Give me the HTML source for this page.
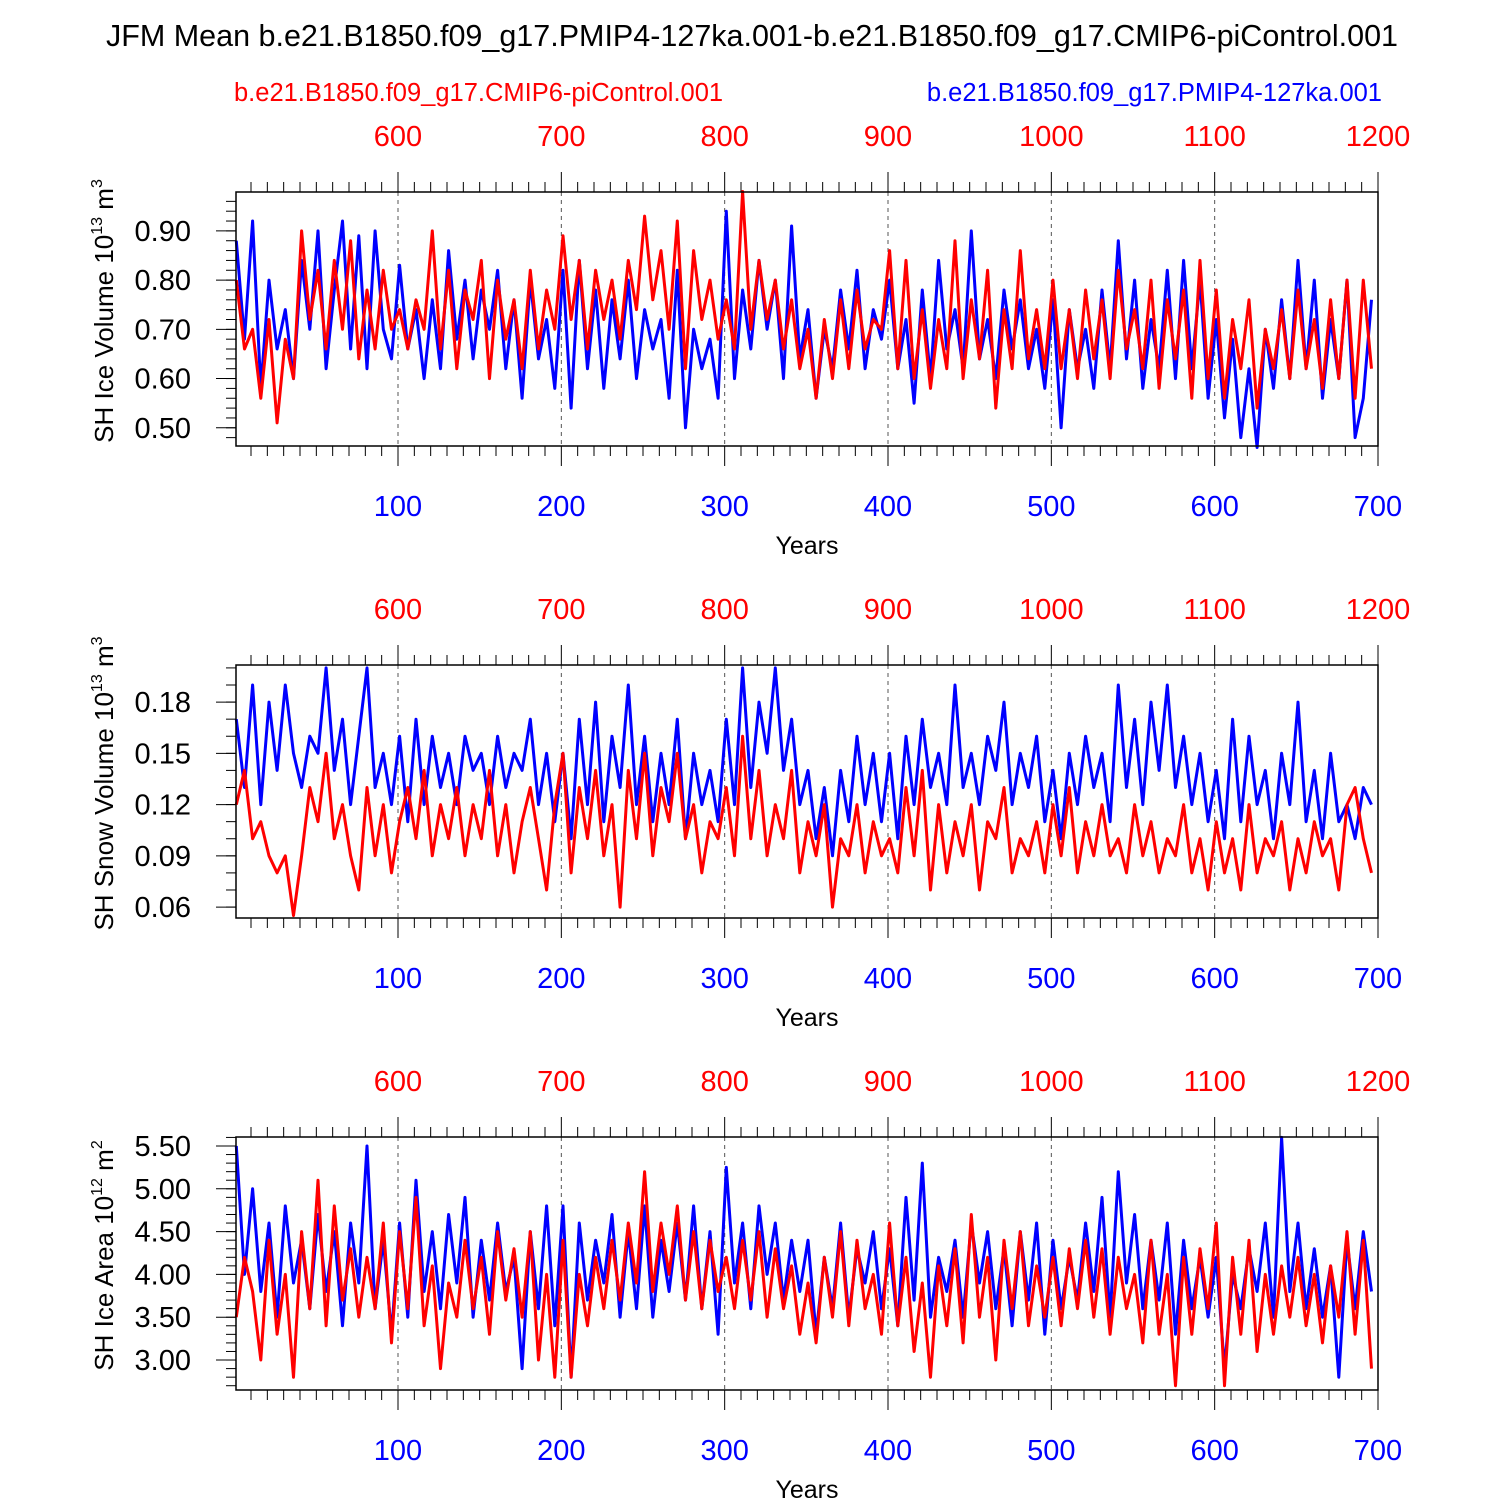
<!DOCTYPE html>
<html><head><meta charset="utf-8"><style>
html,body{margin:0;padding:0;background:#fff;}
svg{display:block;font-family:"Liberation Sans",Arial,sans-serif;}
</style></head><body>
<svg id="chart" width="1500" height="1500" viewBox="0 0 1500 1500">
<text x="752" y="46" font-size="30.5" text-anchor="middle">JFM Mean b.e21.B1850.f09_g17.PMIP4-127ka.001-b.e21.B1850.f09_g17.CMIP6-piControl.001</text>
<text x="234" y="101" font-size="25.5" fill="#f00">b.e21.B1850.f09_g17.CMIP6-piControl.001</text>
<text x="1382" y="101" font-size="25.5" fill="#00f" text-anchor="end">b.e21.B1850.f09_g17.PMIP4-127ka.001</text>
</svg>
<script>
const blueVol=[0.88,0.68,0.92,0.58,0.80,0.66,0.74,0.60,0.84,0.70,0.90,0.62,0.78,0.92,0.66,0.89,0.62,0.90,0.70,0.64,
0.83,0.66,0.74,0.60,0.76,0.62,0.86,0.68,0.80,0.64,0.78,0.70,0.82,0.62,0.76,0.56,0.80,0.64,0.72,0.58,
0.82,0.54,0.84,0.62,0.78,0.58,0.76,0.64,0.80,0.60,0.74,0.66,0.72,0.56,0.82,0.50,0.70,0.62,0.68,0.56,
0.94,0.60,0.78,0.66,0.84,0.70,0.80,0.60,0.91,0.64,0.74,0.56,0.70,0.62,0.78,0.66,0.82,0.62,0.74,0.68,
0.80,0.62,0.72,0.55,0.78,0.60,0.84,0.66,0.74,0.62,0.90,0.64,0.72,0.60,0.78,0.66,0.76,0.62,0.70,0.58,
0.76,0.50,0.74,0.62,0.70,0.58,0.78,0.62,0.88,0.64,0.80,0.58,0.72,0.62,0.82,0.60,0.84,0.62,0.80,0.56,
0.72,0.52,0.68,0.48,0.62,0.46,0.70,0.58,0.76,0.60,0.84,0.62,0.80,0.56,0.72,0.60,0.80,0.48,0.56,0.76];
const redVol=[0.80,0.66,0.70,0.56,0.72,0.51,0.68,0.60,0.90,0.72,0.82,0.66,0.84,0.70,0.88,0.64,0.78,0.66,0.82,0.70,
0.74,0.66,0.76,0.70,0.90,0.66,0.82,0.62,0.78,0.72,0.84,0.60,0.80,0.68,0.76,0.62,0.82,0.66,0.78,0.70,
0.89,0.72,0.84,0.66,0.82,0.72,0.80,0.68,0.84,0.74,0.93,0.76,0.86,0.70,0.92,0.62,0.86,0.72,0.80,0.68,
0.76,0.66,0.98,0.70,0.84,0.72,0.80,0.66,0.76,0.62,0.70,0.56,0.72,0.60,0.76,0.62,0.78,0.66,0.72,0.70,
0.86,0.62,0.84,0.60,0.74,0.58,0.72,0.62,0.88,0.60,0.76,0.64,0.82,0.54,0.74,0.62,0.86,0.64,0.74,0.62,
0.80,0.62,0.74,0.60,0.78,0.64,0.76,0.60,0.82,0.66,0.74,0.62,0.80,0.58,0.76,0.64,0.78,0.56,0.84,0.60,
0.78,0.56,0.72,0.62,0.76,0.54,0.70,0.62,0.74,0.60,0.78,0.62,0.72,0.58,0.76,0.60,0.80,0.56,0.80,0.62];
const blueSnow=[0.17,0.13,0.19,0.12,0.18,0.14,0.19,0.15,0.13,0.16,0.15,0.20,0.14,0.17,0.12,0.16,0.20,0.13,0.15,0.12,
0.16,0.11,0.17,0.12,0.16,0.13,0.15,0.12,0.16,0.14,0.15,0.12,0.16,0.13,0.15,0.14,0.17,0.12,0.15,0.11,
0.15,0.10,0.17,0.12,0.18,0.11,0.16,0.13,0.19,0.12,0.16,0.11,0.15,0.12,0.17,0.10,0.15,0.12,0.14,0.11,
0.17,0.12,0.20,0.13,0.18,0.15,0.20,0.14,0.17,0.12,0.14,0.10,0.13,0.09,0.14,0.11,0.16,0.12,0.15,0.11,
0.15,0.10,0.16,0.12,0.17,0.13,0.15,0.12,0.19,0.13,0.15,0.12,0.16,0.14,0.18,0.12,0.15,0.13,0.16,0.11,
0.14,0.10,0.15,0.12,0.16,0.13,0.15,0.11,0.19,0.13,0.17,0.12,0.18,0.14,0.19,0.13,0.16,0.12,0.15,0.11,
0.14,0.10,0.17,0.11,0.16,0.12,0.14,0.10,0.15,0.12,0.18,0.11,0.14,0.10,0.15,0.11,0.12,0.10,0.13,0.12];
const redSnow=[0.12,0.14,0.10,0.11,0.09,0.08,0.09,0.055,0.09,0.13,0.11,0.15,0.10,0.12,0.09,0.07,0.13,0.09,0.12,0.08,
0.11,0.13,0.10,0.14,0.09,0.12,0.10,0.13,0.09,0.12,0.10,0.14,0.09,0.12,0.08,0.11,0.13,0.10,0.07,0.12,
0.15,0.08,0.13,0.10,0.14,0.09,0.12,0.06,0.14,0.10,0.15,0.09,0.13,0.11,0.15,0.10,0.12,0.08,0.11,0.10,
0.13,0.09,0.16,0.10,0.14,0.09,0.12,0.10,0.14,0.08,0.11,0.09,0.12,0.06,0.10,0.09,0.12,0.08,0.11,0.09,
0.10,0.08,0.13,0.09,0.14,0.07,0.12,0.08,0.11,0.09,0.12,0.07,0.11,0.10,0.13,0.08,0.10,0.09,0.11,0.08,
0.12,0.09,0.13,0.08,0.11,0.09,0.12,0.09,0.10,0.08,0.12,0.09,0.11,0.08,0.10,0.09,0.12,0.08,0.10,0.07,
0.11,0.08,0.10,0.07,0.12,0.08,0.10,0.09,0.11,0.07,0.10,0.08,0.11,0.09,0.10,0.07,0.12,0.13,0.10,0.08];
const blueArea=[5.5,4.0,5.0,3.8,4.6,3.5,4.8,3.9,4.4,3.6,4.7,3.8,4.5,3.4,4.6,3.9,5.5,3.6,4.4,3.3,
4.6,3.5,5.1,3.8,4.5,3.6,4.7,3.9,4.9,3.5,4.4,3.7,4.6,3.8,4.2,2.9,4.5,3.6,4.8,3.4,
4.8,2.8,4.6,3.7,4.4,3.9,4.7,3.5,4.5,3.6,4.8,3.5,4.4,3.8,4.6,3.7,4.8,3.6,4.5,3.3,
5.25,3.9,4.6,3.6,4.8,4.0,4.6,3.7,4.4,3.8,4.4,3.3,4.2,3.6,4.6,3.5,4.3,3.9,4.5,3.6,
4.3,3.4,4.9,3.7,5.3,3.5,4.2,3.8,4.4,3.5,4.6,3.9,4.5,3.6,4.3,3.4,4.5,3.7,4.6,3.3,
4.4,3.6,4.2,3.7,4.6,3.8,4.9,3.5,5.2,3.9,4.7,3.6,4.4,3.7,4.6,3.3,4.4,3.6,4.2,3.5,
4.2,2.9,4.0,3.6,4.3,3.8,4.6,3.5,5.6,3.8,4.6,3.6,4.3,3.5,4.1,2.8,4.4,3.6,4.5,3.8];
const redArea=[3.5,4.2,3.8,3.0,4.4,3.3,4.0,2.8,4.5,3.6,5.1,3.4,4.8,3.7,4.3,3.5,4.2,3.6,4.6,3.2,
4.5,3.6,4.9,3.4,4.1,2.9,3.9,3.5,4.4,3.6,4.2,3.3,4.5,3.7,4.3,3.5,4.5,3.0,4.0,2.8,
4.4,2.8,4.0,3.4,4.2,3.6,4.4,3.7,4.6,3.9,5.2,3.8,4.6,4.0,4.8,3.7,4.5,3.6,4.4,3.8,
4.2,3.6,4.4,3.7,4.5,3.5,4.3,3.6,4.1,3.3,3.9,3.2,4.2,3.5,4.5,3.4,4.4,3.6,4.0,3.3,
4.6,3.4,4.2,3.1,3.9,2.8,4.1,3.4,4.3,3.2,4.7,3.5,4.2,3.0,4.4,3.6,4.5,3.4,4.1,3.5,
4.2,3.4,4.3,3.6,4.4,3.5,4.3,3.3,4.2,3.6,4.0,3.2,4.4,3.3,4.0,2.7,4.2,3.3,4.3,3.6,
4.6,2.7,4.2,3.3,4.4,3.1,4.0,3.3,4.1,3.5,4.2,3.4,4.0,3.2,4.1,3.5,4.5,3.3,4.4,2.9];
const bottomTicks=[100,200,300,400,500,600,700];
const topTicks=[600,700,800,900,1000,1100,1200];
const volTicks=[0.50,0.60,0.70,0.80,0.90];
const snowTicks=[0.06,0.09,0.12,0.15,0.18];
const areaTicks=[3.00,3.50,4.00,4.50,5.00,5.50];
const yearStart=1, yearStep=5, redOffset=500;

const NS="http://www.w3.org/2000/svg";
const svg=document.getElementById('chart');
const X0=236,X1=1378;
function xs(yr){return 398+(yr-100)*(1378-398)/600;}
function mk(tag,attrs,parent){const e=document.createElementNS(NS,tag);for(const k in attrs)e.setAttribute(k,attrs[k]);(parent||svg).appendChild(e);return e;}

const panels=[
 {name:'ice-volume',top:192,bot:446,vmin:0.463,vmax:0.979,ticks:volTicks,minor:0.02,dec:2,blue:blueVol,red:redVol,label:['SH Ice Volume 10','13',' m','3']},
 {name:'snow-volume',top:665,bot:918,vmin:0.0536,vmax:0.2017,ticks:snowTicks,minor:0.01,dec:2,blue:blueSnow,red:redSnow,label:['SH Snow Volume 10','13',' m','3']},
 {name:'ice-area',top:1137,bot:1390,vmin:2.65,vmax:5.605,ticks:areaTicks,minor:0.1,dec:2,blue:blueArea,red:redArea,label:['SH Ice Area 10','12',' m','2']}
];
panels.forEach(p=>{
 const g=mk('g',{});
 
 
 const ys=v=>p.bot-(v-p.vmin)*(p.bot-p.top)/(p.vmax-p.vmin);
 bottomTicks.slice(0,-1).forEach(t=>{const l=mk('line',{x1:xs(t),x2:xs(t),y1:p.top,y2:p.bot,stroke:'#555','stroke-width':1,'stroke-dasharray':'4,4'},g);
  });
 for(let yr=10;yr<=700;yr+=10){const major=yr%100===0;const len=major?20:10;
  mk('line',{x1:xs(yr),x2:xs(yr),y1:p.bot,y2:p.bot+len,stroke:'#000','stroke-width':1},g);
  mk('line',{x1:xs(yr),x2:xs(yr),y1:p.top,y2:p.top-len,stroke:'#000','stroke-width':1},g);}
 for(let v=Math.ceil(p.vmin/p.minor)*p.minor;v<=p.vmax+1e-9;v+=p.minor){
  mk('line',{x1:X0-10,x2:X0,y1:ys(v),y2:ys(v),stroke:'#000','stroke-width':1},g);}
 p.ticks.forEach(t=>{mk('line',{x1:X0-20,x2:X0,y1:ys(t),y2:ys(t),stroke:'#000','stroke-width':1},g);
  const tx=mk('text',{x:X0-45,y:ys(t)+10,'font-size':29,'text-anchor':'end'},g);tx.textContent=t.toFixed(p.dec);
  });
 const path=(arr,offset,color,nm)=>{let d='';arr.forEach((v,i)=>{d+=(i?'L':'M')+xs(yearStart+i*yearStep).toFixed(1)+','+ys(v).toFixed(1);});
  const pa=mk('path',{d:d,fill:'none',stroke:color,'stroke-width':3,'stroke-linejoin':'round'},g);
  };
 path(p.blue,0,'#00f','blue-series-line');
 path(p.red,redOffset,'#f00','red-series-line');
 const fr=mk('rect',{x:X0,y:p.top,width:X1-X0,height:p.bot-p.top,fill:'none',stroke:'#000','stroke-width':1.5},g);
 
 bottomTicks.forEach(t=>{const tx=mk('text',{x:xs(t),y:p.bot+70,'font-size':29,'text-anchor':'middle',fill:'#00f'},g);tx.textContent=t;
  });
 topTicks.forEach(t=>{const tx=mk('text',{x:xs(t-redOffset),y:p.top-46,'font-size':29,'text-anchor':'middle',fill:'#f00'},g);tx.textContent=t;
  });
 const xt=mk('text',{x:807,y:p.bot+108,'font-size':25,'text-anchor':'middle'},g);xt.textContent='Years';
 
 const cy=(p.top+p.bot)/2;
 const yt=mk('text',{x:0,y:0,'font-size':26,'text-anchor':'middle',transform:`translate(113,${cy-8}) rotate(-90)`},g);
 
 const parts=p.label;
 const s1=mk('tspan',{},yt);s1.textContent=parts[0];
 const s2=mk('tspan',{dy:-11,'font-size':16},yt);s2.textContent=parts[1];
 const s3=mk('tspan',{dy:11},yt);s3.textContent=parts[2];
 const s4=mk('tspan',{dy:-11,'font-size':16},yt);s4.textContent=parts[3];
});
</script>
</body></html>
